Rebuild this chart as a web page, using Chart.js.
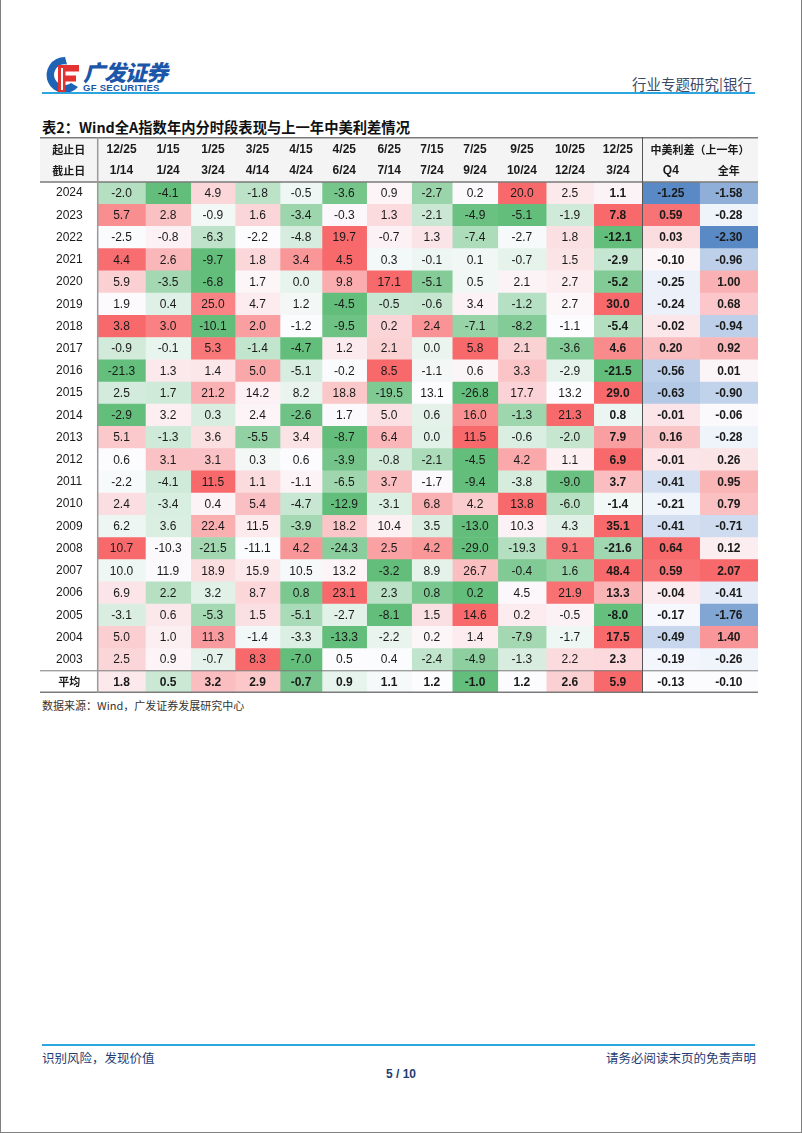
<!DOCTYPE html>
<html>
<head>
<meta charset="utf-8">
<script src="https://cdn.jsdelivr.net/npm/chart.js@4.4.1/dist/chart.umd.min.js"></script>
<style>
  body { margin: 0; width: 802px; height: 1133px; position: relative; background: #fff; overflow: hidden;
         font-family: "Liberation Sans", Arial, sans-serif; }
  .frame { position: absolute; left: 0; top: 0; width: 800px; height: 1132px; border: 1px solid #808080; border-top: none; }
  .abs { position: absolute; white-space: nowrap; }
  .cjk { font-family: "Noto Sans CJK SC", sans-serif; }
</style>
</head>
<body>
<div class="frame"></div>

<!-- header -->
<svg class="abs" style="left:44px;top:56px" width="38" height="38" viewBox="0 0 38 38">
  <path d="M21 1 A18 18 0 1 0 34 31 L27 27 A10.5 10.5 0 1 1 23 8.5 Z" fill="#1f63b5"/>
  <path d="M14 9 H35 V15.5 H21.5 V19.5 H32 V25.5 H21.5 V37 H14 Z" fill="#e3322f"/>
  <path d="M17 12 H19 V34 H17 Z" fill="#fff"/>
</svg>
<div class="abs cjk" style="left:83px;top:55px;font-size:22px;font-weight:900;color:#1c56a8;letter-spacing:-1px;font-style:italic">广发证券</div>
<div class="abs" style="left:83px;top:82px;font-size:9.5px;font-weight:bold;color:#1c56a8;letter-spacing:0.3px">GF SECURITIES</div>
<div class="abs cjk" style="right:50px;top:73px;font-size:14.5px;color:#3b4a68">行业专题研究|银行</div>
<div class="abs" style="left:42px;top:92px;width:713px;height:2px;background:#2ba6de"></div>

<div class="abs cjk" style="left:42px;top:116px;font-size:14.3px;font-weight:bold;color:#111">表2：Wind全A指数年内分时段表现与上一年中美利差情况</div>

<canvas id="heat" class="abs" style="left:40px;top:137px" width="718" height="556"></canvas>

<div class="abs cjk" style="left:42px;top:697px;font-size:11px;color:#333">数据来源：Wind，广发证券发展研究中心</div>

<!-- footer -->
<div class="abs" style="left:42px;top:1044px;width:713px;height:2px;background:#2ba6de"></div>
<div class="abs cjk" style="left:42px;top:1048px;font-size:12.5px;color:#1f3d72">识别风险，发现价值</div>
<div class="abs cjk" style="right:46px;top:1048px;font-size:12.5px;color:#1f3d72">请务必阅读末页的免责声明</div>
<div class="abs" style="left:0;width:802px;text-align:center;top:1067px;font-size:12px;font-weight:bold;color:#1f3d72">5 / 10</div>

<script>
// 行标签（年份）
const years = ['2024', '2023', '2022', '2021', '2020', '2019', '2018', '2017', '2016', '2015', '2014',
  '2013', '2012', '2011', '2010', '2009', '2008', '2007', '2006', '2005', '2004', '2003', '平均'];

// 列标签：起始日 / 截止日
const startDates = ['12/25', '1/15', '1/25', '3/25', '4/15', '4/25', '6/25', '7/15', '7/25', '9/25', '10/25', '12/25'];
const endDates = ['1/14', '1/24', '3/24', '4/14', '4/24', '6/24', '7/14', '7/24', '9/24', '10/24', '12/24', '3/24'];
const spreadLabels = ['Q4', '全年'];

// Wind全A 各时段涨跌幅（%），每行一年，最后一列为 12/25-3/24
const returns = [
  [-2.0, -4.1, 4.9, -1.8, -0.5, -3.6, 0.9, -2.7, 0.2, 20.0, 2.5, 1.1],
  [5.7, 2.8, -0.9, 1.6, -3.4, -0.3, 1.3, -2.1, -4.9, -5.1, -1.9, 7.8],
  [-2.5, -0.8, -6.3, -2.2, -4.8, 19.7, -0.7, 1.3, -7.4, -2.7, 1.8, -12.1],
  [4.4, 2.6, -9.7, 1.8, 3.4, 4.5, 0.3, -0.1, 0.1, -0.7, 1.5, -2.9],
  [5.9, -3.5, -6.8, 1.7, 0.0, 9.8, 17.1, -5.1, 0.5, 2.1, 2.7, -5.2],
  [1.9, 0.4, 25.0, 4.7, 1.2, -4.5, -0.5, -0.6, 3.4, -1.2, 2.7, 30.0],
  [3.8, 3.0, -10.1, 2.0, -1.2, -9.5, 0.2, 2.4, -7.1, -8.2, -1.1, -5.4],
  [-0.9, -0.1, 5.3, -1.4, -4.7, 1.2, 2.1, 0.0, 5.8, 2.1, -3.6, 4.6],
  [-21.3, 1.3, 1.4, 5.0, -5.1, -0.2, 8.5, -1.1, 0.6, 3.3, -2.9, -21.5],
  [2.5, 1.7, 21.2, 14.2, 8.2, 18.8, -19.5, 13.1, -26.8, 17.7, 13.2, 29.0],
  [-2.9, 3.2, 0.3, 2.4, -2.6, 1.7, 5.0, 0.6, 16.0, -1.3, 21.3, 0.8],
  [5.1, -1.3, 3.6, -5.5, 3.4, -8.7, 6.4, 0.0, 11.5, -0.6, -2.0, 7.9],
  [0.6, 3.1, 3.1, 0.3, 0.6, -3.9, -0.8, -2.1, -4.5, 4.2, 1.1, 6.9],
  [-2.2, -4.1, 11.5, 1.1, -1.1, -6.5, 3.7, -1.7, -9.4, -3.8, -9.0, 3.7],
  [2.4, -3.4, 0.4, 5.4, -4.7, -12.9, -3.1, 6.8, 4.2, 13.8, -6.0, -1.4],
  [6.2, 3.6, 22.4, 11.5, -3.9, 18.2, 10.4, 3.5, -13.0, 10.3, 4.3, 35.1],
  [10.7, -10.3, -21.5, -11.1, 4.2, -24.3, 2.5, 4.2, -29.0, -19.3, 9.1, -21.6],
  [10.0, 11.9, 18.9, 15.9, 10.5, 13.2, -3.2, 8.9, 26.7, -0.4, 1.6, 48.4],
  [6.9, 2.2, 3.2, 8.7, 0.8, 23.1, 2.3, 0.8, 0.2, 4.5, 21.9, 13.3],
  [-3.1, 0.6, -5.3, 1.5, -5.1, -2.7, -8.1, 1.5, 14.6, 0.2, -0.5, -8.0],
  [5.0, 1.0, 11.3, -1.4, -3.3, -13.3, -2.2, 0.2, 1.4, -7.9, -1.7, 17.5],
  [2.5, 0.9, -0.7, 8.3, -7.0, 0.5, 0.4, -2.4, -4.9, -1.3, 2.2, 2.3],
  [1.8, 0.5, 3.2, 2.9, -0.7, 0.9, 1.1, 1.2, -1.0, 1.2, 2.6, 5.9]
];

// 上一年中美利差（%）
const spreadQ4 = [-1.25, 0.59, 0.03, -0.10, -0.25, -0.24, -0.02, 0.20, -0.56, -0.63, -0.01, 0.16,
  -0.01, -0.41, -0.21, -0.41, 0.64, 0.59, -0.04, -0.17, -0.49, -0.19, -0.13];
const spreadYear = [-1.58, -0.28, -2.30, -0.96, 1.00, 0.68, -0.94, 0.92, 0.01, -0.90, -0.06, -0.28,
  0.26, 0.95, 0.79, -0.71, 0.12, 2.07, -0.41, -1.76, 1.40, -0.26, -0.10];

// 版式：列宽（相对单位）
const colWidths = [47.7, 45.4, 44.3, 45, 42, 44.7, 45, 40.6, 45.6, 48.4, 47.6, 48.4, 57.6, 58.4];
const edges = [0];
colWidths.forEach(w => edges.push(edges[edges.length - 1] + w));

const RED = [248, 105, 107], GREEN = [99, 190, 123], BLUE = [90, 138, 198], WHITE = [252, 252, 255];

function mix(a, b, t) {
    t = Math.max(0, Math.min(1, t));
    return `rgb(${a.map((v, i) => Math.round(v + (b[i] - v) * t)).join(',')})`;
}
function median(arr) {
    const s = [...arr].sort((a, b) => a - b);
    const m = s.length >> 1;
    return s.length % 2 ? s[m] : (s[m - 1] + s[m]) / 2;
}
// Excel 风格三色刻度：最小值-中位数-最大值
function scale3(v, arr, lo) {
    const min = Math.min(...arr), max = Math.max(...arr), mid = median(arr);
    if (v >= mid) return mix(WHITE, RED, max === mid ? 0 : (v - mid) / (max - mid));
    return mix(WHITE, lo, (mid - v) / (mid - min));
}

function cellValue(r, c) {
    if (c < 12) return returns[r][c];
    return c === 12 ? spreadQ4[r] : spreadYear[r];
}
function cellColor(r, c) {
    if (c < 12) return scale3(returns[r][c], returns[r], GREEN);
    const col = c === 12 ? spreadQ4 : spreadYear;
    return scale3(col[r], col, BLUE);
}

const datasets = colWidths.map((w, c) => ({
    label: c < 12 ? startDates[c] + '-' + endDates[c] : spreadLabels[c - 12],
    data: years.map(() => [edges[c], edges[c + 1]]),
    backgroundColor: years.map((_, r) => cellColor(r, c)),
    borderWidth: 0,
    barPercentage: 1,
    categoryPercentage: 1,
    grouped: false
}));

const tableDeco = {
    id: 'tableDeco',
    beforeDraw(chart) {
        const { ctx, chartArea } = chart;
        ctx.save();
        ctx.fillStyle = '#f4f4f4';
        ctx.fillRect(0, 0, chartArea.right, chartArea.top);
        ctx.restore();
    },
    afterDatasetsDraw(chart) {
        const { ctx, chartArea } = chart;
        const x = chart.scales.x, y = chart.scales.y;
        ctx.save();
        ctx.textAlign = 'center';
        ctx.textBaseline = 'middle';
        ctx.fillStyle = '#1a1a1a';
        // 单元格数值
        chart.data.datasets.forEach((ds, c) => {
            chart.getDatasetMeta(c).data.forEach((el, r) => {
                const bold = c >= 11 || r === years.length - 1;
                ctx.font = (bold ? 'bold ' : '') + '12px "Liberation Sans", Arial, sans-serif';
                const v = cellValue(r, c);
                const p = el.getCenterPoint();
                ctx.fillText(v.toFixed(c < 12 ? 1 : 2), p.x, p.y + 0.5);
            });
        });
        // 表头
        const row1 = chartArea.top - 32, row2 = chartArea.top - 11;
        ctx.font = 'bold 12px "Liberation Sans", Arial, sans-serif';
        for (let c = 0; c < 12; c++) {
            const cx = x.getPixelForValue((edges[c] + edges[c + 1]) / 2);
            ctx.fillText(startDates[c], cx, row1);
            ctx.fillText(endDates[c], cx, row2);
        }
        ctx.fillText(spreadLabels[0], x.getPixelForValue((edges[12] + edges[13]) / 2), row2);
        ctx.font = 'bold 11px "Noto Sans CJK SC", sans-serif';
        ctx.fillText(spreadLabels[1], x.getPixelForValue((edges[13] + edges[14]) / 2), row2);
        ctx.fillText('中美利差（上一年）', x.getPixelForValue((edges[12] + edges[14]) / 2), row1);
        ctx.fillText('起止日', chartArea.left / 2, row1);
        ctx.fillText('截止日', chartArea.left / 2, row2);

        // 表格线
        const band = y.getPixelForValue(1) - y.getPixelForValue(0);
        const bottom = chartArea.bottom;
        ctx.strokeStyle = '#7a7a7a';
        ctx.lineWidth = 1.5;
        const hline = (yy) => { ctx.beginPath(); ctx.moveTo(0, yy); ctx.lineTo(chartArea.right, yy); ctx.stroke(); };
        hline(0.75);
        hline(chartArea.top);
        hline(bottom - 0.75);
        ctx.lineWidth = 1;
        hline(y.getPixelForValue(years.length - 1) - band / 2);
        ctx.strokeStyle = '#9a9a9a';
        ctx.lineWidth = 1.5;
        ctx.beginPath(); ctx.moveTo(chartArea.left, 0); ctx.lineTo(chartArea.left, bottom); ctx.stroke();
        ctx.strokeStyle = '#555';
        ctx.lineWidth = 1;
        const dx = Math.round(x.getPixelForValue(edges[12])) + 0.5;
        ctx.beginPath(); ctx.moveTo(dx, 0); ctx.lineTo(dx, bottom); ctx.stroke();
        ctx.restore();
    }
};

new Chart(document.getElementById('heat'), {
    type: 'bar',
    data: { labels: years, datasets: datasets },
    options: {
        responsive: false,
        animation: false,
        indexAxis: 'y',
        layout: { padding: { top: 45, right: 0, bottom: 0, left: 0 } },
        plugins: { legend: { display: false }, tooltip: { enabled: false } },
        scales: {
            x: { type: 'linear', min: 0, max: edges[edges.length - 1], display: false },
            y: {
                type: 'category',
                grid: { display: false, drawTicks: false },
                border: { display: false },
                afterFit: s => { s.width = 57.7; s.paddingTop = 0; s.paddingBottom = 0; },
                ticks: {
                    crossAlign: 'center',
                    padding: 15,
                    color: '#1a1a1a',
                    font: ctx => ctx.index === years.length - 1
                        ? { family: '"Noto Sans CJK SC", sans-serif', size: 11, weight: 'bold' }
                        : { family: '"Liberation Sans", Arial, sans-serif', size: 12 }
                }
            }
        }
    },
    plugins: [tableDeco]
});
</script>
</body>
</html>
